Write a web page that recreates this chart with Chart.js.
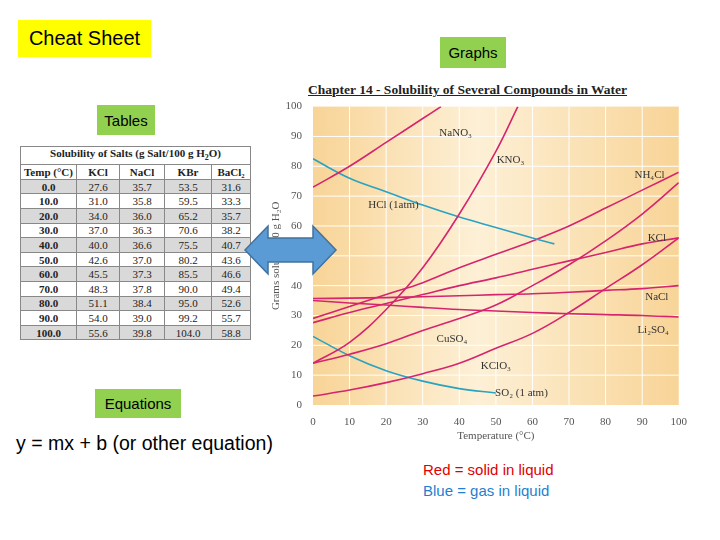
<!DOCTYPE html>
<html><head><meta charset="utf-8">
<script src="https://cdn.jsdelivr.net/npm/chart.js@4"></script>
<style>
body{margin:0;width:720px;height:540px;background:#fff;position:relative;overflow:hidden;font-family:"Liberation Sans",Arial,sans-serif}
.box{position:absolute;display:flex;align-items:center;justify-content:center}
#tbl{position:absolute;left:20px;top:146px;width:230px;border-collapse:collapse;font-family:"Liberation Serif",serif;font-size:11px;color:#222;table-layout:fixed}
#tbl td,#tbl th{border:1px solid #888;padding:0;height:13.6px;text-align:center;line-height:12px;white-space:nowrap}
#tbl tr.g td{background:#d9d9d9}
</style></head><body>
<div class="box" style="left:18px;top:20px;width:133px;height:37px;background:#ffff00;font-size:20px">Cheat Sheet</div>
<div class="box" style="left:440px;top:37px;width:66px;height:31px;background:#92d050;font-size:15px">Graphs</div>
<div class="box" style="left:97px;top:105px;width:58px;height:30px;background:#92d050;font-size:15px">Tables</div>
<div class="box" style="left:95px;top:389px;width:86px;height:29px;background:#92d050;font-size:15px">Equations</div>
<div style="position:absolute;left:16px;top:432px;font-size:19.5px">y = mx + b (or other equation)</div>
<div style="position:absolute;left:423px;top:461px;font-size:15px;color:#e00000">Red = solid in liquid</div>
<div style="position:absolute;left:423px;top:482px;font-size:15px;color:#1f7fd0">Blue = gas in liquid</div>
<table id="tbl"></table>
<div style="position:absolute;left:308px;top:82px;font-family:'Liberation Serif',serif;font-weight:bold;font-size:13.5px;text-decoration:underline;color:#222">Chapter 14 - Solubility of Several Compounds in Water</div>
<div style="position:absolute;left:270px;top:97px;width:420px;height:346px"><canvas id="c"></canvas></div>
<svg style="position:absolute;left:0;top:0" width="720" height="540"><polygon points="245,250 268,226 268,238 313,238 313,226 336,250 313,274 313,262 268,262 268,274" fill="#5b9bd5" stroke="#41719c" stroke-width="1.5"/></svg>
<script>
const tableHead=["Temp (°C)","KCl","NaCl","KBr","BaCl₂"];
const tableTemps=["0.0","10.0","20.0","30.0","40.0","50.0","60.0","70.0","80.0","90.0","100.0"];
const tKCl=["27.6","31.0","34.0","37.0","40.0","42.6","45.5","48.3","51.1","54.0","55.6"];
const tNaCl=["35.7","35.8","36.0","36.3","36.6","37.0","37.3","37.8","38.4","39.0","39.8"];
const tKBr=["53.5","59.5","65.2","70.6","75.5","80.2","85.5","90.0","95.0","99.2","104.0"];
const tBaCl2=["31.6","33.3","35.7","38.2","40.7","43.6","46.6","49.4","52.6","55.7","58.8"];
const w=[56,43,45,47,39];
let h='<colgroup>'+w.map(x=>`<col style="width:${x}px">`).join('')+'</colgroup>';
h+='<tr><th colspan="5" style="height:15px">Solubility of Salts (g Salt/100 g H<sub style="font-size:8px">2</sub>O)</th></tr><tr>';
tableHead.forEach(x=>h+=`<th>${x}</th>`);h+='</tr>';
tableTemps.forEach((t,i)=>{h+=`<tr class="${i%2==0?'g':''}"><td style="font-weight:bold">${t}</td><td>${tKCl[i]}</td><td>${tNaCl[i]}</td><td>${tKBr[i]}</td><td>${tBaCl2[i]}</td></tr>`});
document.getElementById('tbl').innerHTML=h;

const T=[0,10,20,30,40,50,60,70,80,90,100];
const NaNO3=[[0,73],[10,80],[20,88],[30,96],[35,100]];
const KNO3=[[0,14],[10,21],[20,32],[30,46],[40,64],[50,85],[56,100]];
const HCl=[[0,82.5],[10,76],[20,71.5],[30,67],[40,63],[50,59.5],[60,56],[66,54]];
const NH4Cl=[29,33,37,41,46,50.5,55,60,66,72,78];
const KCl=[27.6,31.0,34.0,37.0,40.0,42.6,45.5,48.3,51.1,54.0,56];
const NaCl=[35.7,35.8,36.0,36.3,36.6,37.0,37.3,37.8,38.4,39.0,40];
const Li2SO4=[35,34.2,33.5,32.7,32,31.5,31,30.6,30.3,30,29.5];
const CuSO4=[14,17,20.5,25,29,33.5,40,47,55,64,74.5];
const KClO3=[3,5,7.5,10.5,14,19,24,31,39,47,56];
const SO2=[[0,23],[10,16.5],[20,11.5],[30,8],[40,5.5],[50,4]];
const labels=[["NaNO₃",39,91],["KNO₃",54,82],["NH₄Cl",92,77],["HCl (1atm)",22,67],["KCl",94,56],["NaCl",94,36],["Li₂SO₄",93,25],["CuSO₄",38,22],["KClO₃",50,13],["SO₂ (1 atm)",57,4]];
const red='#d6246e',blue='#2aa3c0';
const pair=a=>a.map(p=>({x:p[0],y:p[1]}));
const arr=a=>a.map((v,i)=>({x:T[i],y:v}));
const ds=(d,c)=>({data:d,borderColor:c,borderWidth:1.6,pointRadius:0,tension:0.4,fill:false});
const bg={id:'bg',beforeDatasetsDraw(ch){const a=ch.chartArea,x=ch.ctx;const g=x.createLinearGradient(a.left,0,a.right,0);g.addColorStop(0,'#f8d497');g.addColorStop(0.45,'#fdf0d6');g.addColorStop(1,'#f8d497');x.save();x.fillStyle=g;x.fillRect(a.left,a.top,a.right-a.left,a.bottom-a.top);
x.strokeStyle='#ffffff';x.lineWidth=1;const sx=ch.scales.x,sy=ch.scales.y;for(let i=10;i<100;i+=10){x.beginPath();x.moveTo(sx.getPixelForValue(i),a.top);x.lineTo(sx.getPixelForValue(i),a.bottom);x.stroke();x.beginPath();x.moveTo(a.left,sy.getPixelForValue(i));x.lineTo(a.right,sy.getPixelForValue(i));x.stroke();}x.restore();},
afterDatasetsDraw(ch){const x=ch.ctx,sx=ch.scales.x,sy=ch.scales.y;x.save();x.fillStyle='#333';x.font='11px "Liberation Serif"';x.textAlign='center';x.textBaseline='middle';labels.forEach(l=>x.fillText(l[0],sx.getPixelForValue(l[1]),sy.getPixelForValue(l[2])));x.restore();}};
new Chart(document.getElementById('c'),{type:'line',data:{datasets:[ds(pair(NaNO3),red),ds(pair(KNO3),red),ds(pair(HCl),blue),ds(arr(NH4Cl),red),ds(arr(KCl),red),ds(arr(NaCl),red),ds(arr(Li2SO4),red),ds(arr(CuSO4),red),ds(arr(KClO3),red),ds(pair(SO2),blue)]},
options:{responsive:true,maintainAspectRatio:false,animation:false,layout:{padding:{top:8,right:7}},plugins:{legend:{display:false},tooltip:{enabled:false}},
scales:{x:{type:'linear',min:0,max:100,grid:{display:false},border:{display:false},ticks:{stepSize:10,color:'#555',font:{family:'Liberation Serif',size:11}},title:{display:true,text:'Temperature (°C)',color:'#555',font:{family:'Liberation Serif',size:11},padding:0},afterFit(s){s.height=38}},
y:{min:0,max:100,grid:{display:false},border:{display:false},ticks:{stepSize:10,color:'#555',font:{family:'Liberation Serif',size:11}},title:{display:true,text:'Grams solute/100 g H₂O',color:'#555',font:{family:'Liberation Serif',size:11},padding:0},afterFit(s){s.width=43}}}},plugins:[bg]});
</script></body></html>
